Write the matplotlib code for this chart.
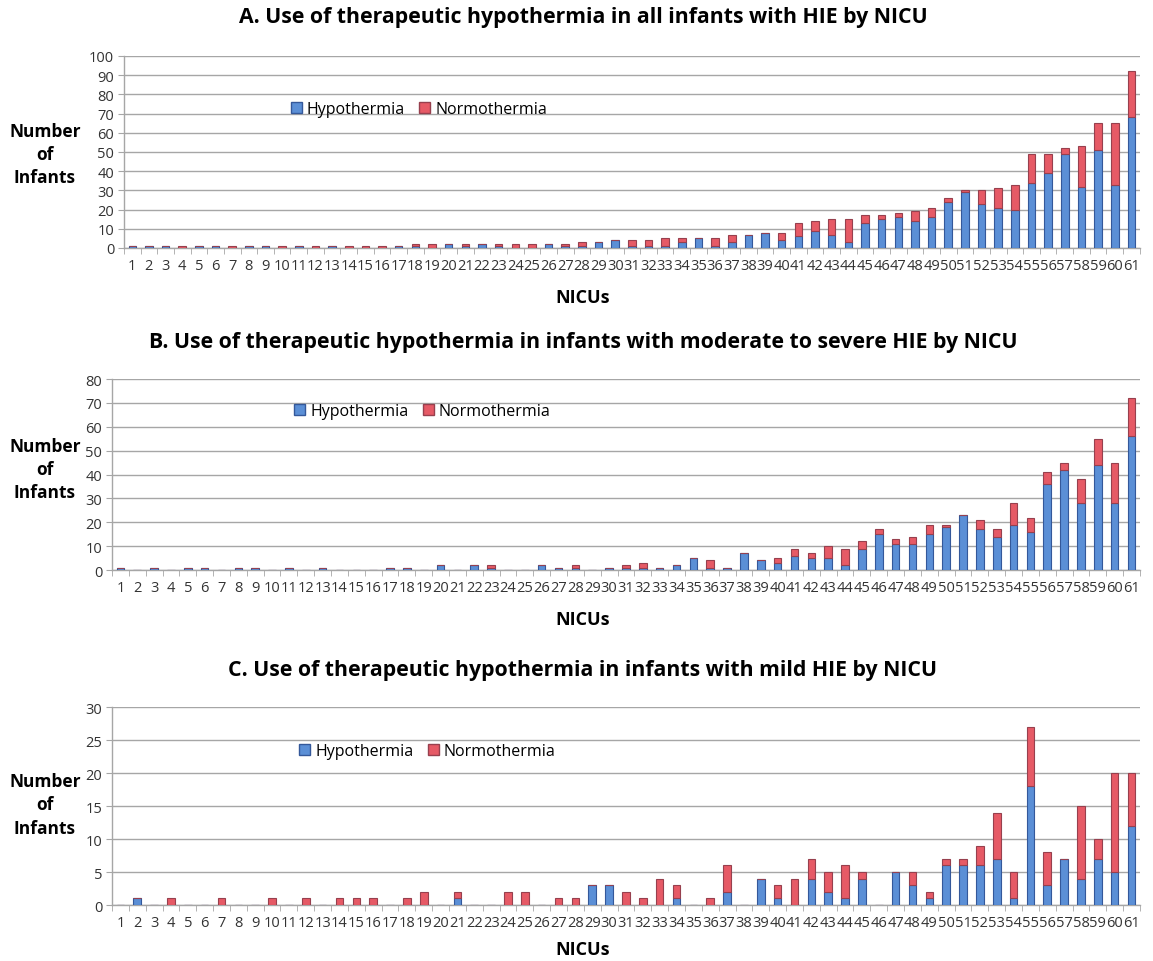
import numpy as np
import matplotlib
matplotlib.use("Agg")
import matplotlib.pyplot as plt
from matplotlib.patches import Patch
from matplotlib.ticker import MultipleLocator

plt.rcParams['font.family'] = ['Open Sans', 'DejaVu Sans']

# === Данные (номера NICU и число детей) ===
nicus = list(range(1, 62))

# A. все дети с HIE
hypo_all = [1, 1, 1, 0, 1, 1, 0, 1, 1, 0, 1, 0, 1, 0, 0, 0, 1, 1, 0, 2,
            1, 2, 1, 0, 0, 2, 1, 1, 3, 4, 1, 1, 1, 3, 5, 1, 3, 7, 8, 4,
            6, 9, 7, 3, 13, 15, 16, 14, 16, 24, 29, 23, 21, 20, 34, 39, 49, 32, 51, 33,
            68]
norm_all = [0, 0, 0, 1, 0, 0, 1, 0, 0, 1, 0, 1, 0, 1, 1, 1, 0, 1, 2, 0,
            1, 0, 1, 2, 2, 0, 1, 2, 0, 0, 3, 3, 4, 2, 0, 4, 4, 0, 0, 4,
            7, 5, 8, 12, 4, 2, 2, 5, 5, 2, 1, 7, 10, 13, 15, 10, 3, 21, 14, 32,
            24]

# B. умеренная и тяжёлая HIE
hypo_mod = [1, 0, 1, 0, 1, 1, 0, 1, 1, 0, 1, 0, 1, 0, 0, 0, 1, 1, 0, 2,
            0, 2, 1, 0, 0, 2, 1, 1, 0, 1, 1, 1, 1, 2, 5, 1, 1, 7, 4, 3,
            6, 5, 5, 2, 9, 15, 11, 11, 15, 18, 23, 17, 14, 19, 16, 36, 42, 28, 44, 28,
            56]
norm_mod = [0, 0, 0, 0, 0, 0, 0, 0, 0, 0, 0, 0, 0, 0, 0, 0, 0, 0, 0, 0,
            0, 0, 1, 0, 0, 0, 0, 1, 0, 0, 1, 2, 0, 0, 0, 3, 0, 0, 0, 2,
            3, 2, 5, 7, 3, 2, 2, 3, 4, 1, 0, 4, 3, 9, 6, 5, 3, 10, 11, 17,
            16]

# C. лёгкая HIE
hypo_mild = [0, 1, 0, 0, 0, 0, 0, 0, 0, 0, 0, 0, 0, 0, 0, 0, 0, 0, 0, 0,
             1, 0, 0, 0, 0, 0, 0, 0, 3, 3, 0, 0, 0, 1, 0, 0, 2, 0, 4, 1,
             0, 4, 2, 1, 4, 0, 5, 3, 1, 6, 6, 6, 7, 1, 18, 3, 7, 4, 7, 5,
             12]
norm_mild = [0, 0, 0, 1, 0, 0, 1, 0, 0, 1, 0, 1, 0, 1, 1, 1, 0, 1, 2, 0,
             1, 0, 0, 2, 2, 0, 1, 1, 0, 0, 2, 1, 4, 2, 0, 1, 4, 0, 0, 2,
             4, 3, 3, 5, 1, 0, 0, 2, 1, 1, 1, 3, 7, 4, 9, 5, 0, 11, 3, 15,
             8]

titles = [
    "A. Use of therapeutic hypothermia in all infants with HIE by NICU",
    "B. Use of therapeutic hypothermia in infants with moderate to severe HIE by NICU",
    "C. Use of therapeutic hypothermia in infants with mild HIE by NICU",
]

BLUE = "#5b8fd6"
BLUE_EDGE = "#34589a"
RED = "#e65a66"
RED_EDGE = "#97404e"
GRID = "#a6a6a6"


def draw_panel(ax, hypo, norm, ymax, step, leg_xy):
    x = np.array(nicus)
    ax.bar(x, hypo, width=0.45, color=BLUE, edgecolor=BLUE_EDGE, linewidth=0.8, zorder=3)
    ax.bar(x, norm, width=0.45, bottom=hypo, color=RED, edgecolor=RED_EDGE,
           linewidth=0.8, zorder=3)

    ax.set_xlim(0.5, 61.5)
    ax.set_ylim(0, ymax)
    ax.yaxis.set_major_locator(MultipleLocator(step))
    ax.grid(axis="y", color=GRID, linewidth=1.0, zorder=0)

    ax.set_xticks(x)
    ax.set_xticklabels([str(n) for n in nicus], fontsize=10.5, color="#333333")
    ax.set_xticks(np.arange(0.5, 62, 1), minor=True)
    ax.tick_params(axis="x", which="major", length=0, pad=7)
    ax.tick_params(axis="x", which="minor", length=4, color=GRID)
    ax.tick_params(axis="y", length=4, color=GRID, labelsize=10.5, labelcolor="#333333", pad=3)

    for s in ["top", "right"]:
        ax.spines[s].set_visible(False)
    for s in ["left", "bottom"]:
        ax.spines[s].set_color(GRID)
        ax.spines[s].set_linewidth(1.0)

    handles = [Patch(facecolor=BLUE, edgecolor=BLUE_EDGE, label="Hypothermia"),
               Patch(facecolor=RED, edgecolor=RED_EDGE, label="Normothermia")]
    ax.legend(handles=handles, loc="center left", bbox_to_anchor=leg_xy, ncol=2,
              frameon=False, fontsize=11.5, handlelength=0.7, handleheight=0.7,
              handletextpad=0.3, columnspacing=0.9, borderaxespad=0)


fig = plt.figure(figsize=(11.53, 9.62), dpi=100)

axA = fig.add_axes([0.1075, 0.7412, 0.881, 0.1996])
axB = fig.add_axes([0.0971, 0.4064, 0.8916, 0.1985])
axC = fig.add_axes([0.0971, 0.0582, 0.8916, 0.2058])

draw_panel(axA, hypo_all, norm_all, 100, 10, (0.158, 0.724))
draw_panel(axB, hypo_mod, norm_mod, 80, 10, (0.171, 0.832))
draw_panel(axC, hypo_mild, norm_mild, 30, 5, (0.176, 0.778))

title_y = [0.982, 0.6435, 0.3035]
xlab_y = [0.690, 0.3555, 0.0125]
ylab_y = [0.839, 0.5114, 0.163]
for t, ty, xy, yy in zip(titles, title_y, xlab_y, ylab_y):
    fig.text(0.5056, ty, t, ha="center", va="center", fontsize=15.3, fontweight="bold")
    fig.text(0.5056, xy, "NICUs", ha="center", va="center", fontsize=13, fontweight="bold")
    fig.text(0.039, yy, "Number\nof\nInfants", ha="center", va="center", fontsize=12.5,
             fontweight="bold", linespacing=1.38)

fig.savefig("out.png", dpi=100)
plt.close(fig)
